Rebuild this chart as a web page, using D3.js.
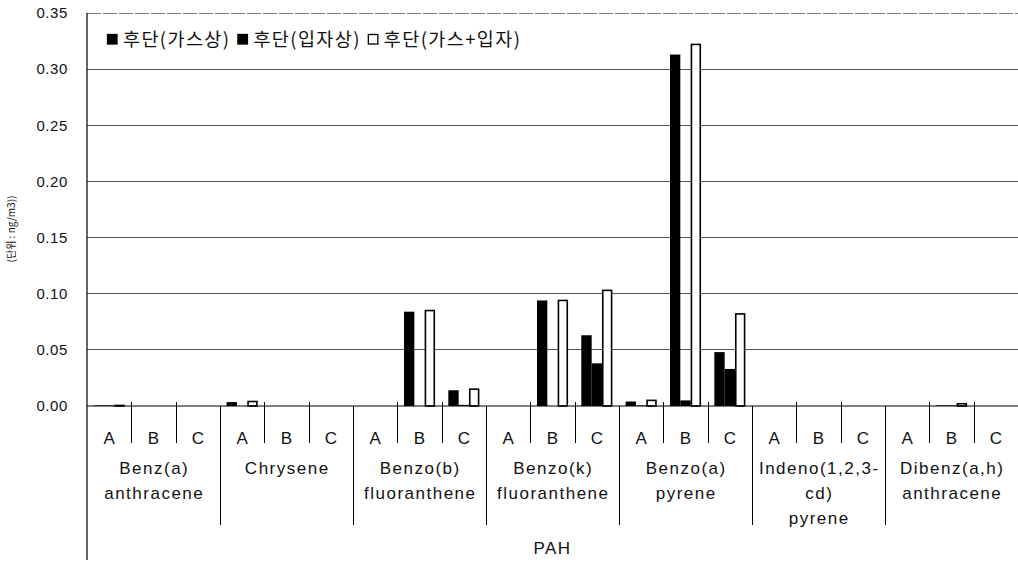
<!DOCTYPE html>
<html>
<head>
<meta charset="utf-8">
<script src="https://cdn.jsdelivr.net/npm/d3@7"></script>
<style>
  body { margin: 0; background: #fff; }
  svg { display: block; }
  text { font-family: "Liberation Sans", Arial, sans-serif; fill: #111; }
  .kr { font-family: "Noto Sans CJK KR", "Liberation Sans", sans-serif; }
</style>
</head>
<body>
<svg id="chart" width="1018" height="563"></svg>
<script>
// ---- data ----
const groups = [
  ["Benz(a)", "anthracene"],
  ["Chrysene"],
  ["Benzo(b)", "fluoranthene"],
  ["Benzo(k)", "fluoranthene"],
  ["Benzo(a)", "pyrene"],
  ["Indeno(1,2,3-", "cd)", "pyrene"],
  ["Dibenz(a,h)", "anthracene"]
];
const subs = ["A", "B", "C"];
const seriesNames = ["후단(가스상)", "후단(입자상)", "후단(가스+입자)"];
const gas      = [0.0005, 0, 0,  0.0035, 0, 0,  0, 0.084, 0.014,  0, 0.094, 0.063,  0.004, 0.313, 0.048,  0, 0, 0,  0, 0.0005, 0];
const particle = [0.0005, 0, 0,  0, 0, 0,       0, 0, 0.001,      0, 0, 0.038,      0.0005, 0.005, 0.033, 0, 0, 0,  0, 0.0005, 0];
const total    = [0.0005, 0, 0,  0.004, 0, 0,   0, 0.085, 0.015,  0, 0.094, 0.103,  0.005, 0.322, 0.082,  0, 0, 0,  0, 0.002, 0];
const yTicks = [0, 0.05, 0.10, 0.15, 0.20, 0.25, 0.30, 0.35];
const yLabel = "(단위 : ng/m3))";
const xTitle = "PAH";

// ---- layout ----
const svg = d3.select("#chart");
const L = 87, R = 1018, T = 13, B = 406;

const keys = [];
groups.forEach((g, gi) => subs.forEach(s => keys.push(gi + "-" + s)));

const x = d3.scaleBand().domain(keys).range([L, R]).paddingInner(0).paddingOuter(0);
const bw = x.bandwidth();
const xs = d3.scaleBand().domain([0, 1, 2]).range([bw * 0.15, bw * 0.85]).padding(0);
const y = d3.scaleLinear().domain([0, 0.35]).range([B, T]);

const values = [gas, particle, total];
const fills = ["#000", "#000", "#fff"];

// gridlines
svg.append("g").selectAll("line").data(yTicks.filter(v => v > 0 && v < 0.35)).join("line")
  .attr("x1", L).attr("x2", R).attr("y1", d => y(d)).attr("y2", d => y(d))
  .attr("stroke", "#555").attr("stroke-width", 1).attr("shape-rendering", "crispEdges");
// top border
svg.append("line").attr("x1", L).attr("x2", R).attr("y1", y(0.35)).attr("y2", y(0.35))
  .attr("stroke", "#777").attr("stroke-width", 1).attr("stroke-dasharray", "14 2").attr("shape-rendering", "crispEdges");

// y tick labels
const yAxis = d3.axisLeft(y).tickValues(yTicks).tickFormat(d3.format(".2f")).tickSize(0).tickPadding(19);
const ya = svg.append("g").attr("transform", `translate(${L},0)`).call(yAxis);
ya.select(".domain").remove();
ya.selectAll("text").attr("font-size", 15).attr("letter-spacing", "0.6px")
  .attr("font-family", "Liberation Sans, Arial, sans-serif").attr("fill", "#111");

// bars
values.forEach((arr, si) => {
  svg.append("g").selectAll("rect").data(arr).join("rect")
    .attr("x", (d, i) => x(keys[i]) + xs(si) + (si === 2 ? 0.75 : 0))
    .attr("y", d => y(d))
    .attr("width", xs.bandwidth() - (si === 2 ? 1.5 : 0))
    .attr("height", d => B - y(d))
    .attr("fill", fills[si])
    .attr("stroke", si === 2 ? "#000" : "none")
    .attr("stroke-width", 1.6);
});

// baseline
svg.append("line").attr("x1", L).attr("x2", R).attr("y1", B).attr("y2", B)
  .attr("stroke", "#000").attr("stroke-width", 1.2);

// left axis line
svg.append("line").attr("x1", L).attr("x2", L).attr("y1", T).attr("y2", 560)
  .attr("stroke", "#000").attr("stroke-width", 1.2);

// separators
keys.forEach((k, i) => {
  if (i === 0) return;
  const xx = Math.round(x(k)) + 0.5;
  const isGroup = i % 3 === 0;
  svg.append("line").attr("x1", xx).attr("x2", xx)
    .attr("y1", isGroup ? B : B - 4).attr("y2", isGroup ? 525 : 443)
    .attr("stroke", "#000").attr("stroke-width", 1);
});

// sub labels
svg.append("g").selectAll("text").data(keys).join("text")
  .attr("x", d => x(d) + bw / 2).attr("y", 443.5)
  .attr("text-anchor", "middle").attr("font-size", 17)
  .text(d => d.split("-")[1]);

// group labels
groups.forEach((lines, gi) => {
  const cx = x(gi + "-B") + bw / 2;
  const t = svg.append("text").attr("text-anchor", "middle").attr("font-size", 17)
    .attr("letter-spacing", "1.5px");
  lines.forEach((ln, li) => {
    t.append("tspan").attr("x", cx + 0.75).attr("y", 474 + li * 25).text(ln);
  });
});

// x title
svg.append("text").attr("x", (L + R) / 2).attr("y", 554).attr("text-anchor", "middle")
  .attr("font-size", 17).attr("letter-spacing", "1.5px").text(xTitle);

// y label
svg.append("text").attr("class", "kr")
  .attr("transform", `translate(15,229) rotate(-90)`)
  .attr("text-anchor", "middle").attr("font-size", 10).text(yLabel);

// legend
const lg = svg.append("g").attr("transform", "translate(107,39)");
let cx = 0;
seriesNames.forEach((name, i) => {
  lg.append("rect").attr("x", cx + 0.5).attr("y", -4.5).attr("width", 9.5).attr("height", 9.5)
    .attr("fill", fills[i]).attr("stroke", "#000").attr("stroke-width", 1.3);
  const t = lg.append("text").attr("class", "kr").attr("x", cx + 16).attr("y", 7)
    .attr("font-size", 18.5).attr("letter-spacing", "1.4px").text(name);
  cx += 16 + t.node().getComputedTextLength() + 7;
});
</script>
</body>
</html>
